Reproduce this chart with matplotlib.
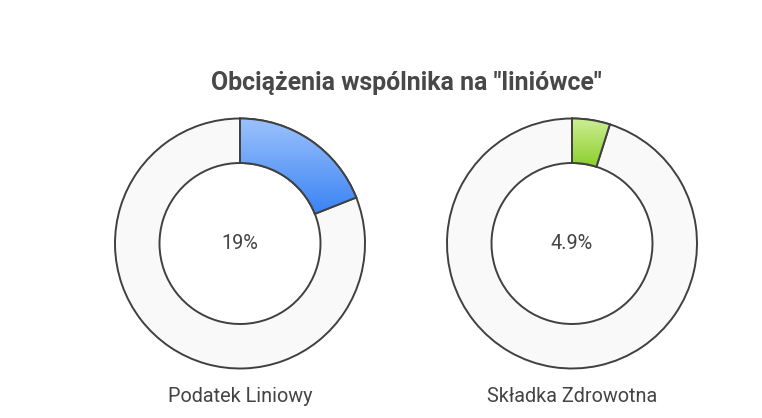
import matplotlib
matplotlib.use("Agg")
import matplotlib.pyplot as plt
import numpy as np
from matplotlib.colors import LinearSegmentedColormap
from matplotlib.patches import Wedge

plt.rcParams['font.family'] = ['Roboto', 'DejaVu Sans']

title = 'Obciążenia wspólnika na "liniówce"'
labels = ["Podatek Liniowy", "Składka Zdrowotna"]
values = [19, 4.9]
value_text = ["19%", "4.9%"]
grad_colors = [("#9cc2fc", "#3a83f4"), ("#cdee95", "#8ccf2c")]

W, H = 762, 418
fig = plt.figure(figsize=(W / 100, H / 100), dpi=100)

centers_x = [240, 572]
cy = 243.5
R = 125
pad = 1.03

for cx, lab, val, txt, (c_top, c_bot) in zip(centers_x, labels, values, value_text, grad_colors):
    half = R * pad
    ax = fig.add_axes([(cx - half) / W, (H - cy - half) / H, 2 * half / W, 2 * half / H])
    wedges, _ = ax.pie([val, 100 - val], startangle=90, counterclock=False,
                       colors=[c_bot, "#f9f9f9"],
                       wedgeprops=dict(width=0.356, edgecolor="#404040", linewidth=1.4))
    w = wedges[0]
    ext = w.get_path().get_extents()
    cmap = LinearSegmentedColormap.from_list("g", [c_top, c_bot])
    grad = np.linspace(0, 1, 256).reshape(-1, 1)
    img = ax.imshow(grad, cmap=cmap, aspect="auto", origin="upper",
                    extent=(ext.x0, ext.x1, ext.y0, ext.y1), zorder=w.get_zorder() + 0.1)
    img.set_clip_path(w)
    ax.add_patch(Wedge(w.center, w.r, w.theta1, w.theta2, width=w.width, fill=False,
                       edgecolor="#404040", linewidth=1.4, zorder=w.get_zorder() + 0.2))
    ax.set_xlim(-pad, pad)
    ax.set_ylim(-pad, pad)
    ax.set_aspect("equal")
    ax.axis("off")
    ax.text(0, 0, txt, ha="center", va="center", fontsize=14.3, color="#444444")
    fig.text(cx / W, 1 - 397 / H, lab, ha="center", va="center", fontsize=14.3, color="#444444")

fig.text(np.mean(centers_x) / W, 1 - 83 / H, title, ha="center", va="center",
         fontsize=17.9, fontweight="bold", color="#484848")

fig.savefig("out.png", dpi=100, facecolor="white")
